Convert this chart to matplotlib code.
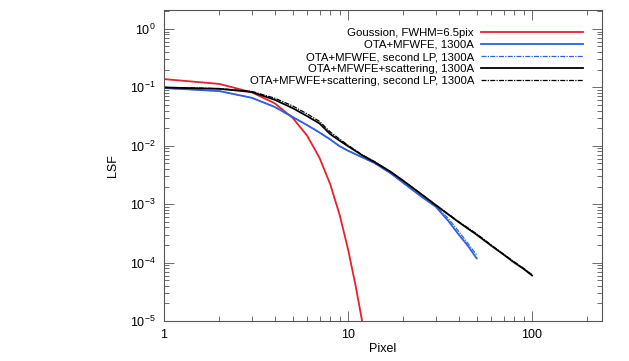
import numpy as np
import matplotlib
matplotlib.use('Agg')
import matplotlib.pyplot as plt
from matplotlib.ticker import LogLocator, FixedLocator, FixedFormatter, NullFormatter

# Gaussian LSF, sampled at integer pixels
gauss_x = [1, 2, 3, 4, 5, 6, 7, 8, 9, 10, 11, 12]
gauss_y = [0.138, 0.114, 0.082, 0.053, 0.030, 0.0148, 0.0062, 0.0022,
           6.6e-4, 1.7e-4, 4.0e-5, 9.0e-6]

# OTA+MFWFE (solid blue) and second LP (dash-dot blue)
ota_x = [1, 2, 3, 4, 5, 6, 7, 8, 9, 10, 12, 14, 17, 20, 25, 30, 35, 40, 45, 50]
ota_y = [0.097, 0.086, 0.066, 0.046, 0.031, 0.0225, 0.0168, 0.0128, 0.0098,
         0.0082, 0.0063, 0.0050, 0.0034, 0.0023, 0.00135, 0.00090, 0.00052,
         0.00030, 0.00019, 0.000118]
ota_lp_y = [0.097, 0.086, 0.066, 0.046, 0.031, 0.0225, 0.0168, 0.0128, 0.0098,
            0.0082, 0.0063, 0.0050, 0.0034, 0.0023, 0.00136, 0.00093, 0.00057,
            0.00034, 0.00021, 0.000135]

# OTA+MFWFE+scattering (solid black) and second LP (dash-dot black)
scat_x = [1, 2, 3, 4, 5, 6, 7, 8, 9, 10, 12, 14, 17, 20, 25, 30, 40, 50,
          60, 70, 80, 90, 100]
scat_y = [0.099, 0.094, 0.083, 0.061, 0.044, 0.032, 0.024, 0.0158, 0.0122,
          0.0098, 0.0068, 0.0052, 0.0036, 0.0025, 0.00148, 0.00096, 0.00049,
          0.00030, 0.000195, 0.000137, 0.000100, 0.000078, 0.000060]
scat_lp_y = [0.100, 0.095, 0.085, 0.065, 0.048, 0.035, 0.026, 0.0172, 0.0130,
             0.0102, 0.0069, 0.0053, 0.0036, 0.0025, 0.00149, 0.00097, 0.00050,
             0.00031, 0.000200, 0.000140, 0.000103, 0.000080, 0.000062]

labels = ['Goussion, FWHM=6.5pix', 'OTA+MFWFE, 1300A',
          'OTA+MFWFE, second LP, 1300A', 'OTA+MFWFE+scattering, 1300A',
          'OTA+MFWFE+scattering, second LP, 1300A']

plt.rcParams['font.family'] = ['Liberation Sans', 'DejaVu Sans']
plt.rcParams['mathtext.fontset'] = 'custom'
plt.rcParams['mathtext.rm'] = 'Liberation Sans'

fig = plt.figure(figsize=(6.29, 3.61), dpi=100)
ax = fig.add_axes([164 / 629, 1 - 321 / 361, (602 - 164) / 629, (321 - 10) / 361])

red = '#e8202a'
blue = '#2a62e0'
ax.plot(gauss_x, gauss_y, color=red, lw=1.3)
ax.plot(ota_x, ota_y, color=blue, lw=1.3)
ax.plot(ota_x, ota_lp_y, color=blue, lw=0.9, ls=(0, (4, 1, 1, 1)))
ax.plot(scat_x, scat_y, color='black', lw=1.3)
ax.plot(scat_x, scat_lp_y, color='black', lw=0.9, ls=(0, (4, 1, 1, 1)))

ax.set_xscale('log')
ax.set_yscale('log')
ax.set_xlim(1, 240)
ax.set_ylim(1e-5, 2.1)

ax.xaxis.set_major_locator(FixedLocator([1, 10, 100]))
ax.xaxis.set_major_formatter(FixedFormatter(['1', '10', '100']))
ax.xaxis.set_minor_locator(LogLocator(base=10, subs=np.arange(2, 10)))
ax.xaxis.set_minor_formatter(NullFormatter())
ax.yaxis.set_major_locator(FixedLocator([1e-5, 1e-4, 1e-3, 1e-2, 1e-1, 1]))
ax.yaxis.set_major_formatter(FixedFormatter(
    [r'$10^{-5}$', r'$10^{-4}$', r'$10^{-3}$', r'$10^{-2}$', r'$10^{-1}$', r'$10^{0}$']))
ax.yaxis.set_minor_locator(LogLocator(base=10, subs=np.arange(2, 10)))
ax.yaxis.set_minor_formatter(NullFormatter())

ax.tick_params(which='both', direction='in', top=True, right=True,
               color='#555555', labelsize=9, width=0.6)
ax.tick_params(which='major', length=7, pad=6)
ax.tick_params(which='minor', length=3.5)
for s in ax.spines.values():
    s.set_color('#555555')
    s.set_linewidth(0.8)

ax.set_xlabel('Pixel', fontsize=9, labelpad=1)
ax.set_ylabel('LSF', fontsize=9, labelpad=8)

ax.legend(labels, loc='upper right', bbox_to_anchor=(0.981, 0.976),
          markerfirst=False, frameon=False, fontsize=8.2,
          handlelength=9.0, handletextpad=0.6, labelspacing=0.19,
          borderpad=0.4)

fig.savefig('out.png', dpi=100)
